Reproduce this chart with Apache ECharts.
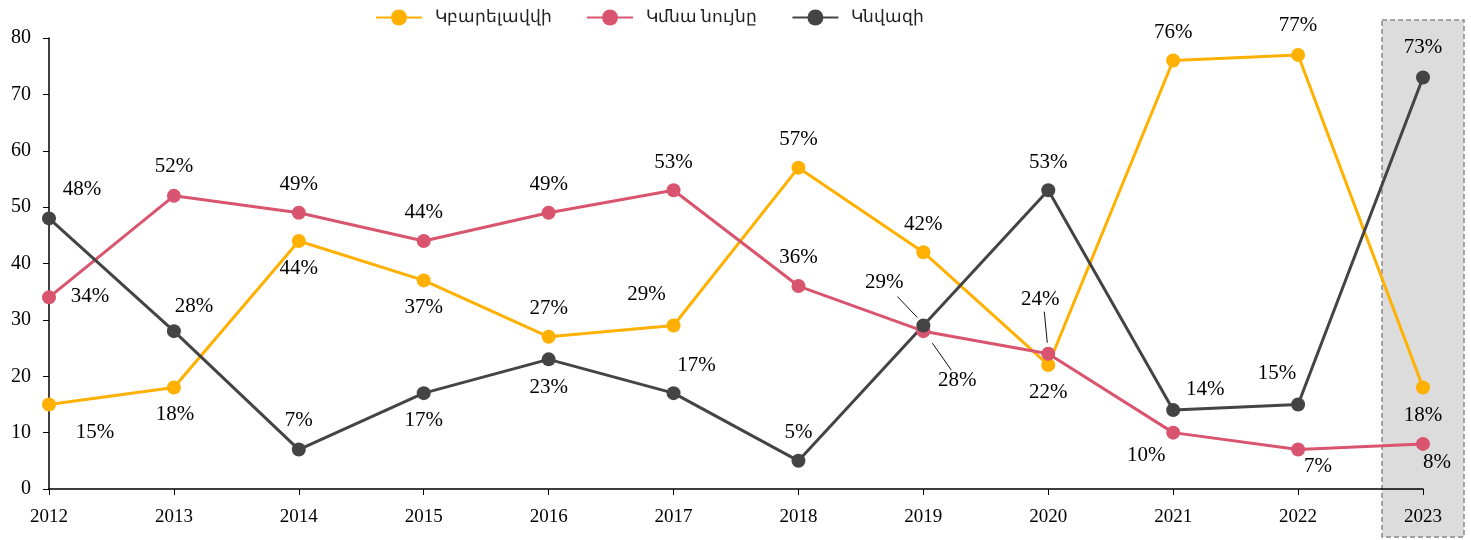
<!DOCTYPE html>
<html>
<head>
    <meta charset="utf-8">
    <script src="https://cdn.jsdelivr.net/npm/echarts@6/dist/echarts.min.js"></script>
    <style>
        * { margin: 0; padding: 0; }
        #main { width: 1471px; height: 540px; }
    </style>
</head>
<body>
    <div id="main"></div>
    <script type="text/javascript">
        var years = ['2012', '2013', '2014', '2015', '2016', '2017', '2018', '2019', '2020', '2021', '2022', '2023'];
        var seriesNames = ['Կբարելավվի', 'Կմնա նույնը', 'Կնվազի'];
        var better = [15, 18, 44, 37, 27, 29, 57, 42, 22, 76, 77, 18];
        var same = [34, 52, 49, 44, 49, 53, 36, 28, 24, 10, 7, 8];
        var worse = [48, 28, 7, 17, 23, 17, 5, 29, 53, 14, 15, 73];
        var yTicks = [0, 10, 20, 30, 40, 50, 60, 70, 80];

        // label offsets from the point (pixels)
        var betterOff = [[46, 28], [1, 27], [0, 28], [0, 27], [0, -28], [-27, -31], [0, -28], [0, -28], [0, 28], [0, -28], [0, -29], [0, 28]];
        var sameOff = [[41, -1], [0, -29], [0, -28], [0, -28], [0, -28], [0, -28], [0, -29], [34, 49], [-8, -54], [-27, 23], [20, 17], [14, 19]];
        var worseOff = [[33, -29], [20, -25], [0, -29], [0, 27], [0, 28], [23, -28], [0, -28], [-39, -43], [0, -28], [32, -21], [-21, -31], [0, -30]];

        var colors = ['#ffb000', '#d9546e', '#444444'];
        var serif = 'Liberation Serif';

        function makeData(vals, offs) {
            return vals.map(function(v, i) {
                return {
                    value: v,
                    label: { offset: offs[i] }
                };
            });
        }

        function makeSeries(idx, vals, offs) {
            return {
                name: seriesNames[idx],
                type: 'line',
                data: makeData(vals, offs),
                symbol: 'circle',
                symbolSize: 14,
                lineStyle: { width: 3, color: colors[idx] },
                itemStyle: { color: colors[idx] },
                z: 5,
                label: {
                    show: true,
                    position: 'inside',
                    align: 'center',
                    verticalAlign: 'middle',
                    formatter: '{c}%',
                    fontFamily: serif,
                    fontSize: 21,
                    color: '#000'
                }
            };
        }

        var myChart = echarts.init(document.getElementById('main'));
        var option = {
            animation: false,
            color: colors,
            legend: {
                top: 4,
                left: 370,
                itemWidth: 46,
                itemHeight: 20,
                itemGap: 34,
                textStyle: { fontFamily: 'Noto Sans', fontSize: 17, color: '#222', padding: [0, 0, 0, 8] },
                data: seriesNames
            },
            grid: { left: 49, right: 48, top: 38, bottom: 51 },
            xAxis: {
                type: 'category',
                boundaryGap: false,
                data: years,
                axisLine: { lineStyle: { color: '#000', width: 1.5 } },
                axisTick: { alignWithLabel: true, length: 6, lineStyle: { color: '#000' } },
                axisLabel: { fontFamily: serif, fontSize: 19, color: '#000', margin: 19 }
            },
            yAxis: {
                type: 'value',
                min: yTicks[0],
                max: yTicks[yTicks.length - 1],
                interval: 10,
                splitLine: { show: false },
                axisLine: { show: true, lineStyle: { color: '#000', width: 1.5 } },
                axisTick: { show: true, length: 6, lineStyle: { color: '#000' } },
                axisLabel: { fontFamily: serif, fontSize: 20, color: '#000', margin: 18 }
            },
            series: [
                makeSeries(0, better, betterOff),
                makeSeries(1, same, sameOff),
                makeSeries(2, worse, worseOff)
            ]
        };
        myChart.setOption(option);

        // highlight box around 2023 and leader lines
        var p2023 = myChart.convertToPixel({ gridIndex: 0 }, ['2023', 0]);
        var pW19 = myChart.convertToPixel({ gridIndex: 0 }, ['2019', worse[7]]);
        var pS19 = myChart.convertToPixel({ gridIndex: 0 }, ['2019', same[7]]);
        var pS20 = myChart.convertToPixel({ gridIndex: 0 }, ['2020', same[8]]);

        function leader(p, a, b) {
            return {
                type: 'line',
                z: 10,
                shape: { x1: p[0] + a[0], y1: p[1] + a[1], x2: p[0] + b[0], y2: p[1] + b[1] },
                style: { stroke: '#111', lineWidth: 1 }
            };
        }

        myChart.setOption({
            graphic: [
                {
                    type: 'rect',
                    z: -10,
                    shape: { x: p2023[0] - 41, y: 20, width: 82, height: 517 },
                    style: { fill: '#dcdcdc', stroke: '#8a8a8a', lineWidth: 1.5, lineDash: [5, 3] }
                },
                leader(pW19, [-26, -29], [-6, -8]),
                leader(pS19, [9, 12], [28, 39]),
                leader(pS20, [-4, -42], [-1, -11])
            ]
        });

        window.addEventListener('resize', function() {
            myChart.resize();
        });
    </script>
</body>
</html>
